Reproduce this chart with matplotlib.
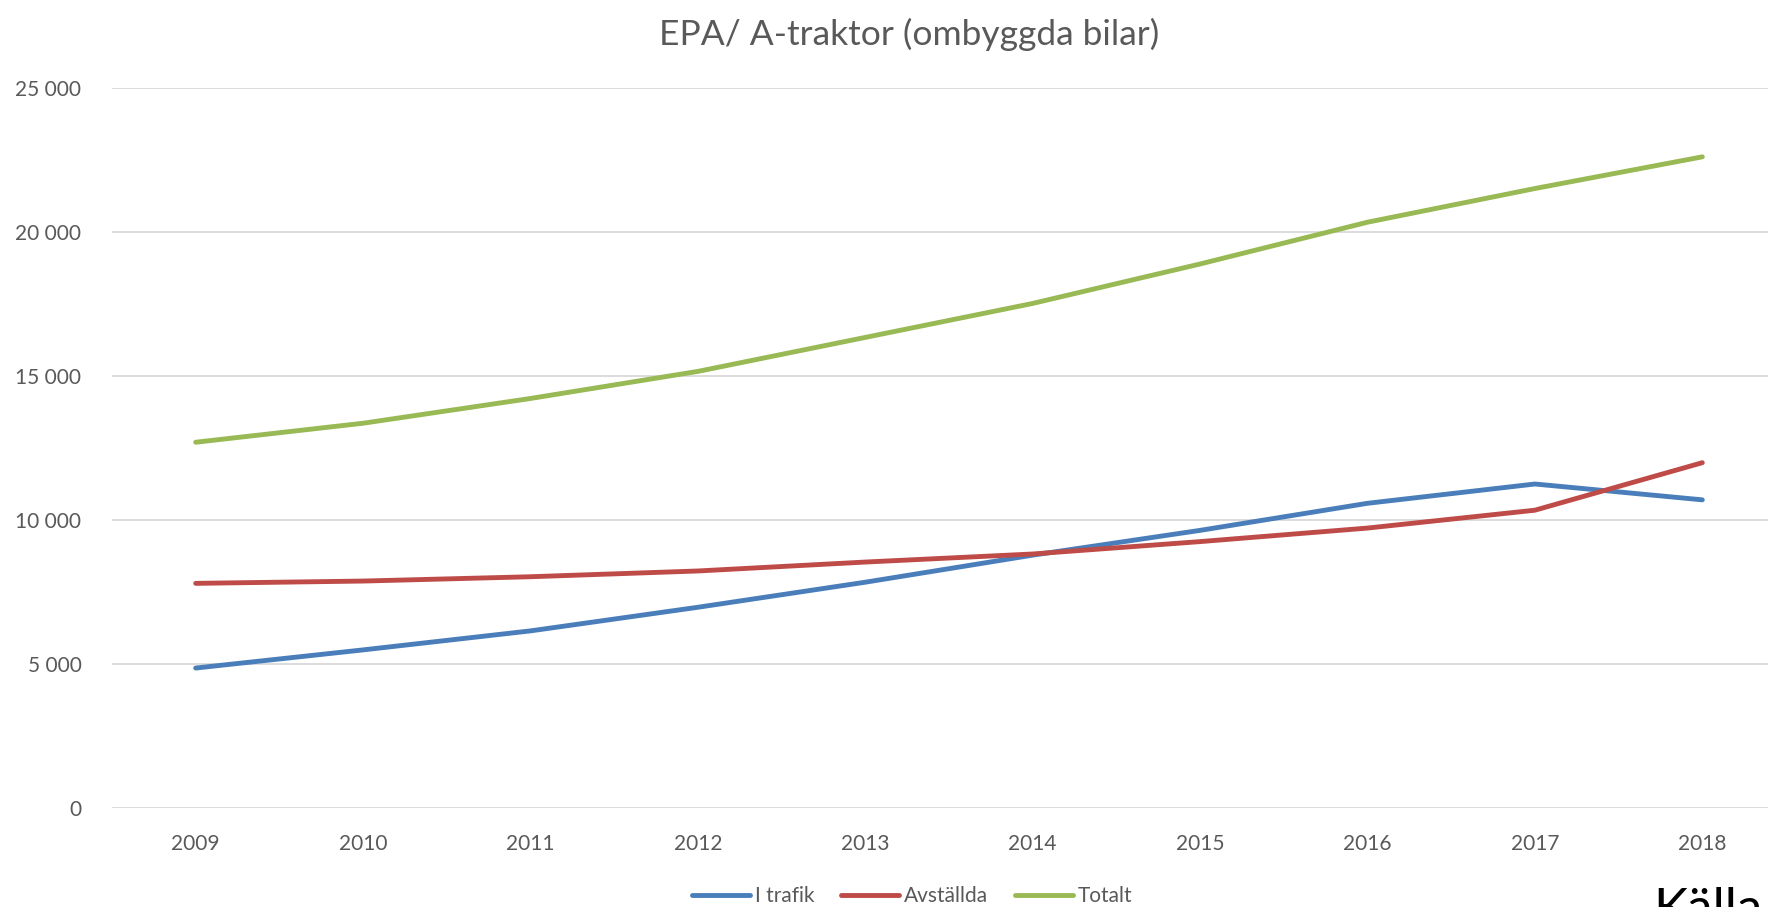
import matplotlib
matplotlib.use('Agg')
import matplotlib.pyplot as plt
from matplotlib.ticker import FuncFormatter

plt.rcParams['font.family'] = ['Lato', 'DejaVu Sans']

### Data
years      = [2009, 2010, 2011, 2012, 2013, 2014, 2015, 2016, 2017, 2018]
i_trafik   = [4860, 5490, 6150, 6970, 7840, 8780, 9640, 10580, 11250, 10700]
avstallda  = [7800, 7880, 8030, 8230, 8540, 8820, 9250, 9720, 10340, 11990]
totalt     = [12700, 13360, 14220, 15160, 16340, 17520, 18890, 20340, 21510, 22610]

labels  = ['I trafik', 'Avställda', 'Totalt']
colors  = ['#4a7ebb', '#be4b48', '#98b954']
title   = 'EPA/ A-traktor (ombyggda bilar)'

W, H = 1768, 907
fig = plt.figure(figsize=(W / 100, H / 100), dpi=100)
ax = fig.add_axes([112 / W, 1 - 808 / H, (1786 - 112) / W, (808 - 88) / H])

x = list(range(len(years)))
for serie, lab, col in zip([i_trafik, avstallda, totalt], labels, colors):
    ax.plot(x, serie, color=col, lw=3.5, label=lab, solid_capstyle='round', solid_joinstyle='round')

ax.set_xlim(-0.5, len(years) - 0.5)
ax.set_ylim(0, 25000)
ax.set_yticks(range(0, 25001, 5000))
ax.yaxis.set_major_formatter(FuncFormatter(lambda v, p: f'{int(v):,}'.replace(',', ' ')))
ax.set_xticks(x)
ax.set_xticklabels([str(y) for y in years])
ax.grid(axis='y', color='#d9d9d9', lw=1.3)
ax.set_axisbelow(True)
for s in ax.spines.values():
    s.set_visible(False)
ax.tick_params(axis='both', length=0, labelsize=15, labelcolor='#595959')
ax.tick_params(axis='y', pad=22)
ax.tick_params(axis='x', pad=19)

# Titel
fig.text(909 / W, 1 - 34 / H, title, ha='center', va='center', fontsize=25.5, color='#595959')

fig.legend(loc='center', bbox_to_anchor=(912 / W, 1 - 896 / H), ncol=3, frameon=False,
           fontsize=15, handlelength=2.8, handletextpad=0.2, columnspacing=1.3, labelcolor='#595959')

# Källa (avklippt i originalet)
fig.text(1653 / W, 1 - 887 / H, 'Källa', ha='left', va='top', fontsize=37, color='black')

fig.savefig('out.png', dpi=100)
